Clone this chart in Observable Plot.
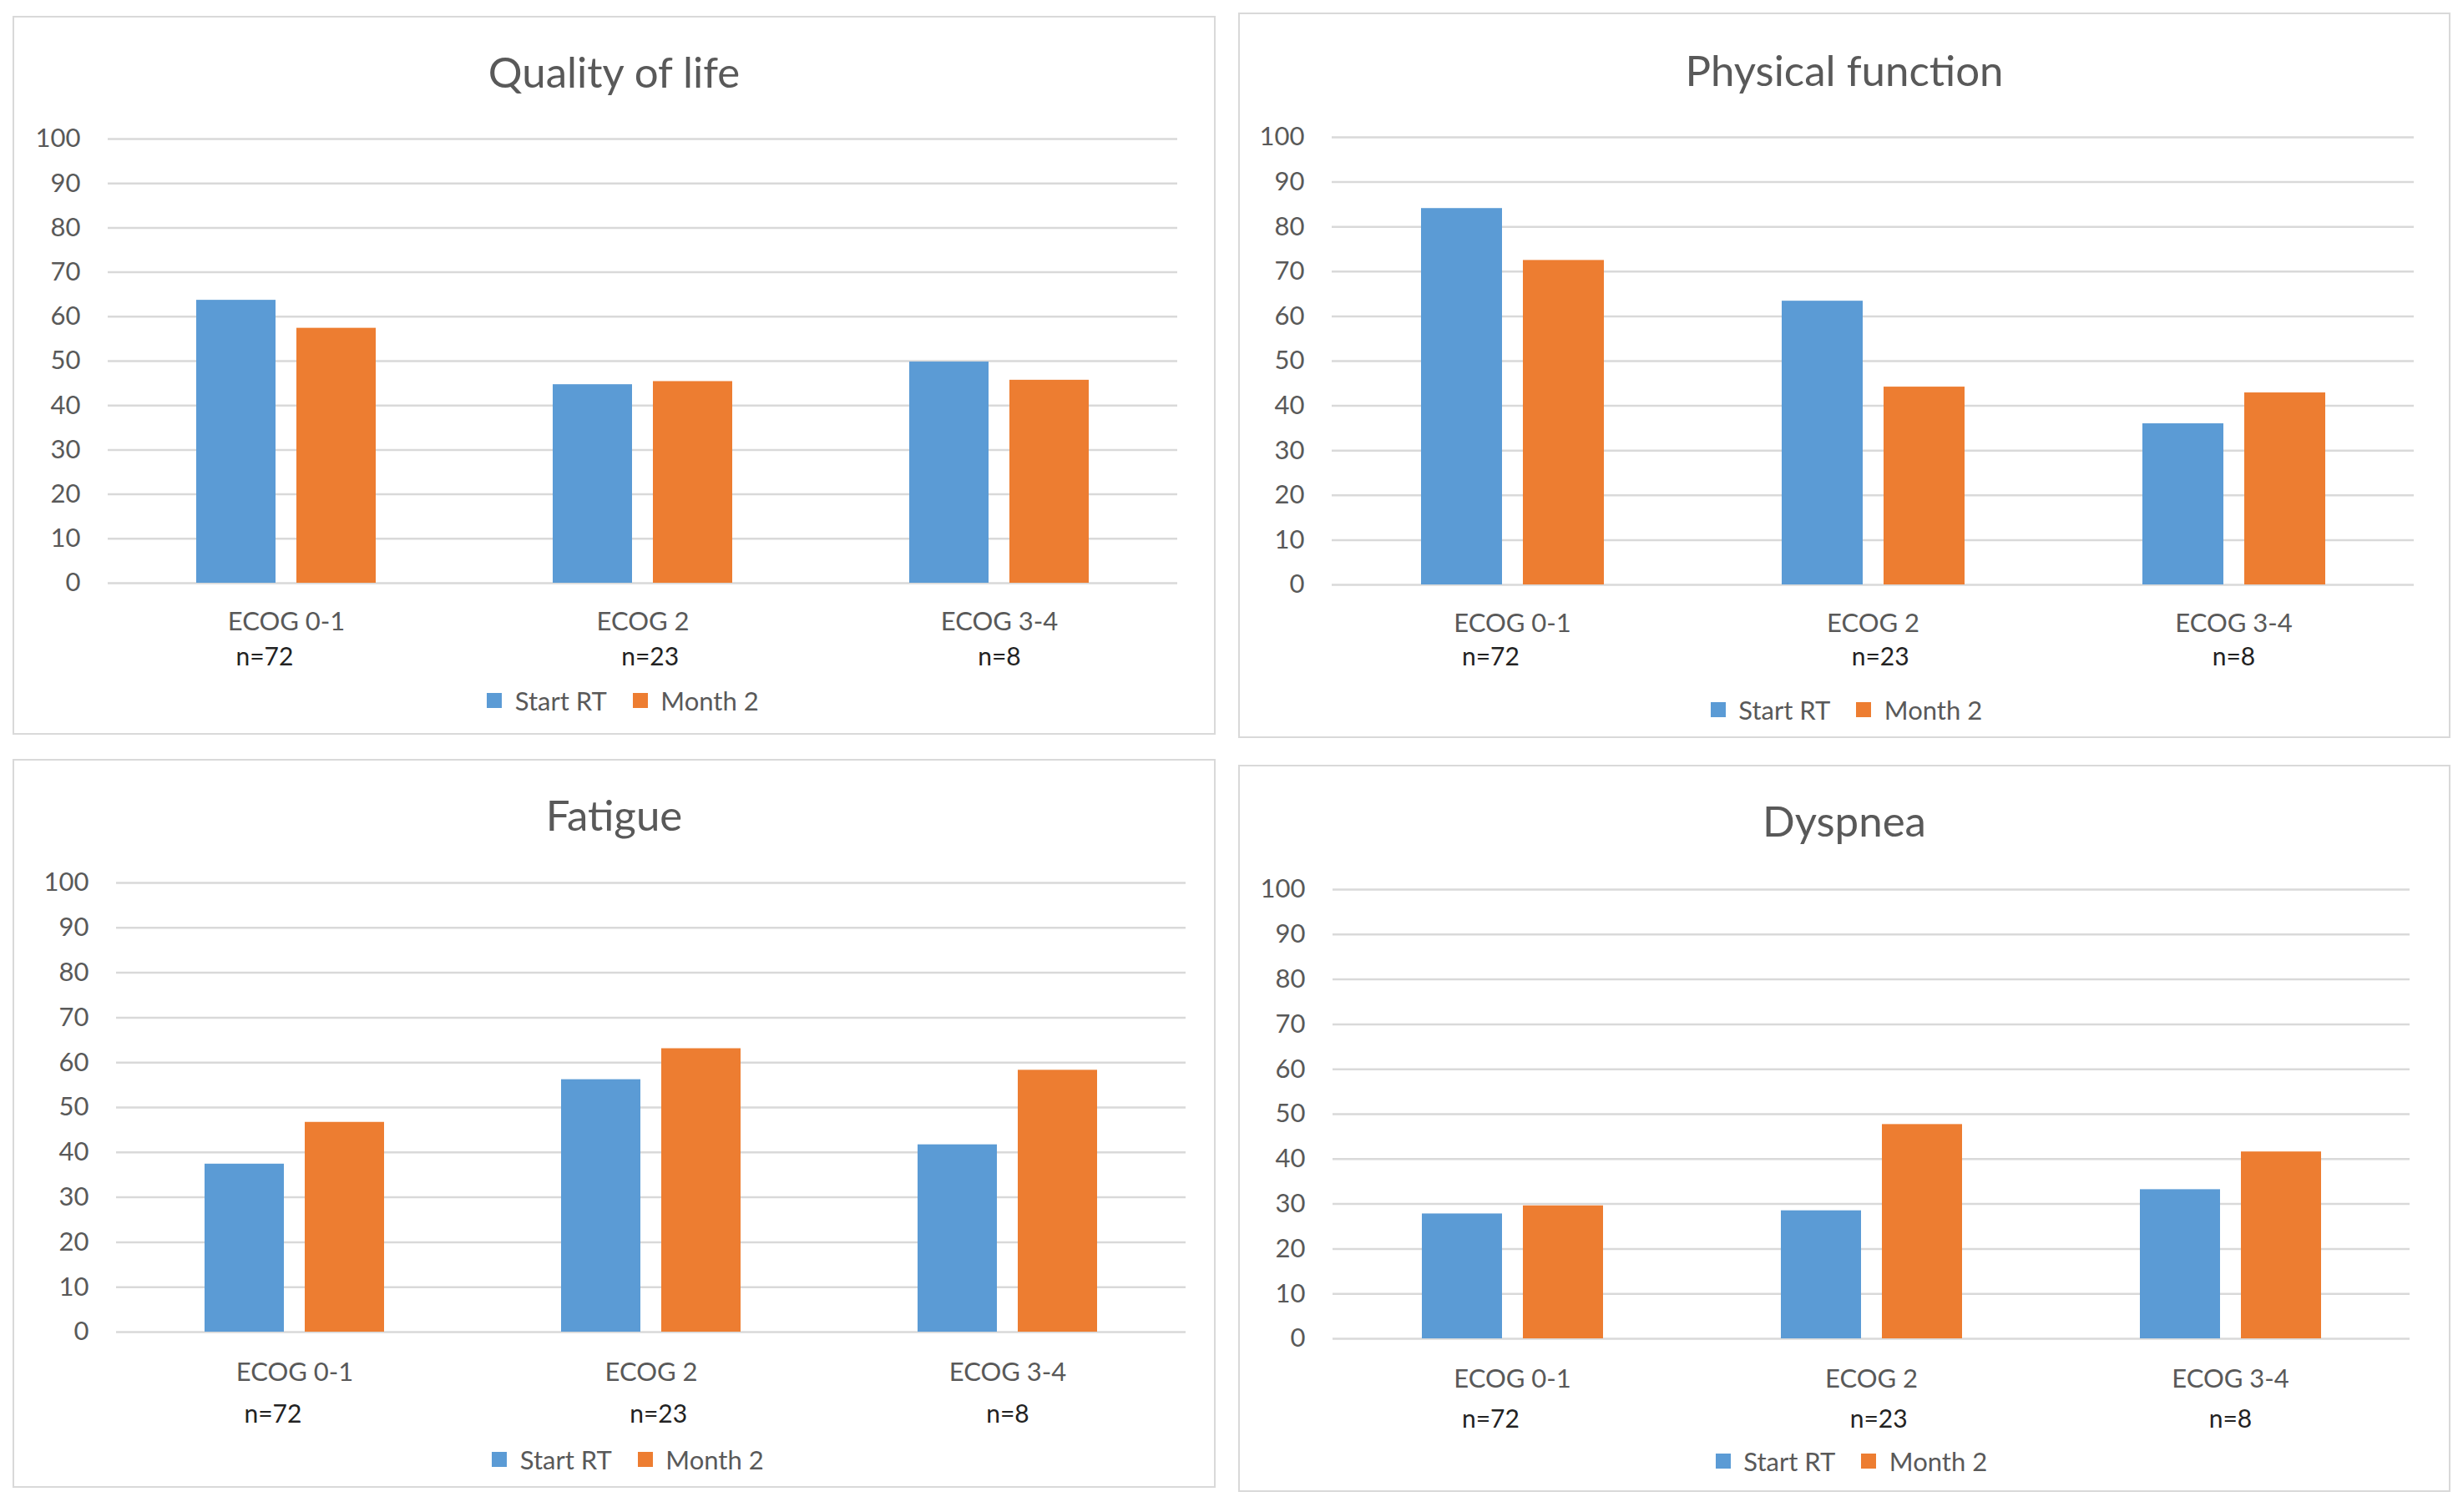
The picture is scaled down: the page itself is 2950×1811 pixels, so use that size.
<!DOCTYPE html>
<html>
<head>
<meta charset="utf-8">
<script src="https://cdn.jsdelivr.net/npm/d3@7"></script>
<script src="https://cdn.jsdelivr.net/npm/@observablehq/plot@0.6"></script>
<style>
  html, body { margin: 0; padding: 0; background: #fff; }
  #root { position: relative; width: 2950px; height: 1811px; background: #fff; font-family: Lato, "Open Sans", sans-serif; }
  .panel { position: absolute; box-sizing: border-box; border: 2px solid #d9d9d9; background: #fff; }
  .title { position: absolute; left: 0; right: 0; text-align: center; font-size: 51px; color: #595959; transform: translateY(-50%); white-space: nowrap; }
  .chart { position: absolute; left: 0; }
  .legend { position: absolute; left: 0; right: 0; display: flex; justify-content: center; transform: translateY(-50%); }
</style>
</head>
<body>
<div id="root"></div>
<script>
// ---- data ----
const categories = ["ECOG 0-1", "ECOG 2", "ECOG 3-4"];
// sample-size lines under each category (padded with figure spaces as in the source labels)
const nLabels = ["n=72\u2007\u2007\u2007", "\u2007n=23", "n=8"];
const seriesNames = ["Start RT", "Month 2"];
const seriesColors = ["#5B9BD5", "#ED7D31"];
const yTicks = [0, 10, 20, 30, 40, 50, 60, 70, 80, 90, 100];

const qolStart = [63.7, 44.7, 49.8];
const qolMonth2 = [57.4, 45.4, 45.7];
const pfStart = [84.1, 63.4, 36.0];
const pfMonth2 = [72.5, 44.2, 42.9];
const fatStart = [37.4, 56.2, 41.7];
const fatMonth2 = [46.7, 63.1, 58.3];
const dysStart = [27.8, 28.5, 33.2];
const dysMonth2 = [29.6, 47.7, 41.6];

const titles = ["Quality of life", "Physical function", "Fatigue", "Dyspnea"];
const seriesByPanel = [
  [qolStart, qolMonth2],
  [pfStart, pfMonth2],
  [fatStart, fatMonth2],
  [dysStart, dysMonth2]
];

// ---- layout (pixels) ----
const layouts = [
  {left: 15,   top: 19,  w: 1441, h: 861, mL: 113, mR: 45, y100: 147, y0: 679, titleY: 66, catBelow: 45, nBelow: 88, legendY: 820, legendDx: 26},
  {left: 1483, top: 15,  w: 1452, h: 869, mL: 112, mR: 44, y100: 149, y0: 685, titleY: 68, catBelow: 45, nBelow: 86, legendY: 835, legendDx: 18},
  {left: 15,   top: 909, w: 1441, h: 873, mL: 124, mR: 36, y100: 148, y0: 686, titleY: 66, catBelow: 47, nBelow: 98, legendY: 839, legendDx: 32},
  {left: 1483, top: 916, w: 1452, h: 871, mL: 112, mR: 48, y100: 149, y0: 687, titleY: 66, catBelow: 47, nBelow: 96, legendY: 834, legendDx: 24}
];

const root = document.getElementById("root");
const fontFamily = "Lato, 'Open Sans', sans-serif";
const fs = 31;

layouts.forEach((L, i) => {
  const panel = document.createElement("div");
  panel.className = "panel";
  Object.assign(panel.style, {left: L.left + "px", top: L.top + "px", width: L.w + "px", height: L.h + "px"});

  const t = document.createElement("div");
  t.className = "title";
  t.style.top = (L.titleY - 2) + "px";
  t.textContent = titles[i];
  panel.appendChild(t);

  const data = [];
  categories.forEach((c, ci) => {
    seriesNames.forEach((s, si) => {
      data.push({category: c, series: s, value: seriesByPanel[i][si][ci]});
    });
  });
  const nMap = new Map(categories.map((c, ci) => [c, nLabels[ci]]));

  const marginTop = 20, marginBottom = 130;
  const innerH = L.y0 - L.y100;
  const plot = Plot.plot({
    width: L.w - 4,
    height: marginTop + innerH + marginBottom,
    marginTop, marginBottom,
    marginLeft: L.mL - 2,
    marginRight: L.mR - 2,
    style: {fontFamily, fontSize: fs + "px", color: "#595959", background: "transparent", overflow: "visible"},
    fx: {domain: categories, padding: 0, label: null},
    x: {domain: seriesNames, paddingInner: 0.207, paddingOuter: 0.871, axis: null},
    y: {domain: [0, 100], label: null},
    color: {domain: seriesNames, range: seriesColors},
    marks: [
      Plot.gridY(yTicks, {stroke: "#d9d9d9", strokeOpacity: 1, strokeWidth: 2.5}),
      Plot.axisY(yTicks, {tickSize: 0, tickPadding: 33, fill: "#595959", fontSize: fs, label: null}),
      Plot.barY(data, {fx: "category", x: "series", y: "value", fill: "series"}),
      Plot.axisFx({anchor: "bottom", tickSize: 0, tickPadding: L.catBelow - 11, fill: "#595959", fontSize: fs, label: null}),
      Plot.axisFx({anchor: "bottom", tickSize: 0, tickPadding: L.nBelow - 11, fill: "#222222", fontSize: 30, label: null, tickFormat: d => nMap.get(d)})
    ]
  });
  plot.classList.add("chart");
  plot.style.top = (L.y100 - marginTop - 2) + "px";
  plot.querySelectorAll("text").forEach(el => el.setAttribute("xml:space", "preserve"));
  panel.appendChild(plot);

  const lg = document.createElement("div");
  lg.className = "legend";
  lg.style.top = (L.legendY - 2) + "px";
  lg.style.paddingLeft = (2 * L.legendDx) + "px";
  lg.style.boxSizing = "border-box";
  const leg = Plot.legend({
    color: {domain: seriesNames, range: seriesColors},
    swatchSize: 18,
    style: {fontFamily, fontSize: fs + "px", color: "#595959", margin: 0}
  });
  lg.appendChild(leg);
  panel.appendChild(lg);

  root.appendChild(panel);
});
</script>
</body>
</html>
